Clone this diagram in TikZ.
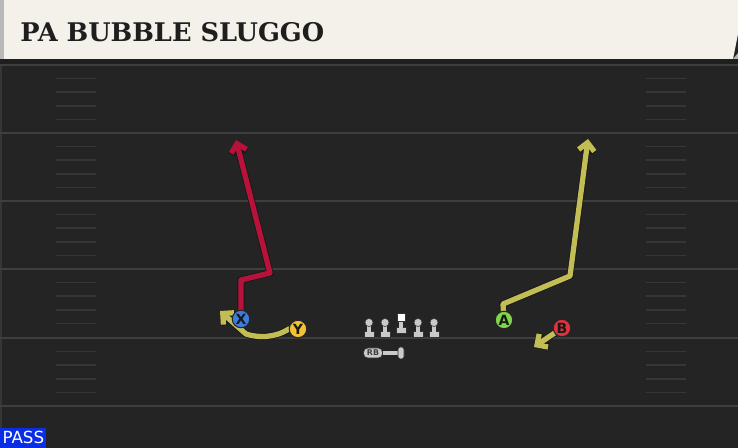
\documentclass[tikz,border=0pt]{standalone}
\usepackage{fontspec}
\setmainfont{DejaVu Sans}
\newfontfamily\titlefont{DejaVu Serif}
\usetikzlibrary{arrows.meta}

\definecolor{turf}{HTML}{242424}
\definecolor{banner}{HTML}{F4F1EA}
\definecolor{titleink}{HTML}{1E1E1E}
\definecolor{yardgray}{HTML}{3E3E3E}
\definecolor{hashgray}{HTML}{363636}
\definecolor{redroute}{HTML}{B8123A}
\definecolor{yelroute}{HTML}{C2BE55}
\definecolor{xblue}{HTML}{3C7DE2}
\definecolor{yyellow}{HTML}{F2C230}
\definecolor{agreen}{HTML}{7FD548}
\definecolor{bred}{HTML}{E0323E}
\definecolor{linegray}{HTML}{C9C9C9}
\definecolor{passblue}{HTML}{0A2EE6}

\tikzset{
  yardline/.style={yardgray, line width=1.2pt},
  hashmark/.style={hashgray, line width=0.9pt},
  route/.style={line width=3pt, line join=round, line cap=round,
    preaction={draw=black!90, line width=4pt}},
  player/.style={circle, draw=black!85, line width=0.6pt, minimum size=0.35cm,
    inner sep=0pt, text=black!90, font=\fontsize{8}{8}\selectfont\bfseries},
}

\begin{document}
\begin{tikzpicture}[x=0.02cm,y=-0.02cm]
\useasboundingbox (0,0) rectangle (738,448);
\fill[turf] (0,0) rectangle (738,448);

% header
\fill[banner] (0,0) -- (738,0) -- (738,34) -- (733,59) -- (0,59) -- cycle;
\fill[gray!55] (0,0) rectangle (4,59);
\fill[black!30] (733,59) -- (738,53) -- (738,59) -- cycle;
\fill[black!88] (0,59) rectangle (738,64);
\node[anchor=base west, text=titleink, inner sep=0pt] (title) at (20,42)
  {\titlefont\bfseries\fontsize{14.6}{18}\selectfont PA BUBBLE SLUGGO};

% field
\draw[hashgray, line width=0.8pt] (1,64) -- (1,448);
\foreach \yl in {65,133,201,269,338,406}
  \draw[yardline] (0,\yl) -- (738,\yl);
\foreach \yl in {65,133,201,269,338}
  \foreach \k in {1,...,4} {
    \draw[hashmark] (56,{\yl+\k*13.6}) -- (96,{\yl+\k*13.6});
    \draw[hashmark] (646,{\yl+\k*13.6}) -- (686,{\yl+\k*13.6});
  }

% players
\node[player, fill=xblue] (X) at (241,319) {X};
\node[player, fill=yyellow] (Y) at (298,329) {Y};
\node[player, fill=agreen] (A) at (504,320) {A};
\node[player, fill=bred] (B) at (562,328) {B};

\coordinate (xstem) at (241,280);
\coordinate (xbreak) at (270,273);
\coordinate (xend) at (236,140);
\coordinate (ybend) at (246,334);
\coordinate (yend) at (220,311);
\coordinate (astem) at (503,304);
\coordinate (abreak) at (570,276);
\coordinate (aend) at (588,139);
\coordinate (bend) at (534,347);

% routes
\draw[route, redroute, -{Straight Barb[length=4.5pt, width=9pt]}]
  (X) -- (xstem) -- (xbreak) -- (xend);
\draw[route, yelroute, -{Straight Barb[length=4.5pt, width=9pt]}]
  (Y.west) .. controls (275,338) and (258,338) .. (ybend) -- (yend);
\draw[route, yelroute, -{Straight Barb[length=4.5pt, width=9pt]}]
  (A) -- (astem) -- (abreak) -- (aend);
\draw[route, yelroute, -{Straight Barb[length=4.5pt, width=9pt]}]
  (B) -- (bend);
\node[player, fill=xblue] at (X) {X};
\node[player, fill=yyellow] at (Y) {Y};
\node[player, fill=agreen] at (A) {A};
\node[player, fill=bred] at (B) {B};

% line
\foreach \lx in {369,385,418,434} {
  \fill[linegray, draw=black!80, line width=0.3pt] (\lx-5,331) rectangle (\lx+5,337);
  \fill[linegray] (\lx-2,323) rectangle (\lx+2,332);
  \fill[linegray, draw=black!80, line width=0.3pt] (\lx,322.5) circle (2.3pt);
}
\fill[linegray, draw=black!80, line width=0.3pt] (396,327.5) rectangle (406,333.5);
\fill[linegray] (399,321) rectangle (403,328);
\fill[white, draw=black!80, line width=0.3pt] (397,313.5) rectangle (405,321.5);

% back
\node[fill=linegray, draw=black!80, line width=0.3pt, rounded corners=2.5pt,
  minimum width=0.38cm, minimum height=0.2cm, inner sep=0pt,
  text=black!75, font=\fontsize{4.5}{4.5}\selectfont\bfseries] (rb) at (373,353) {RB};
\coordinate (rbend) at (399,353);
\draw[linegray, line width=2.6pt] (rb.east) -- (rbend);
\fill[linegray, draw=black!80, line width=0.3pt, rounded corners=1.5pt]
  (398,347) rectangle (404,359);

% play type
\node[fill=passblue, text=white, anchor=south west, inner sep=0pt,
  minimum width=0.92cm, minimum height=0.4cm,
  font=\fontsize{9.5}{10}\selectfont] (play) at (0,448) {PASS};
\end{tikzpicture}
\end{document}
